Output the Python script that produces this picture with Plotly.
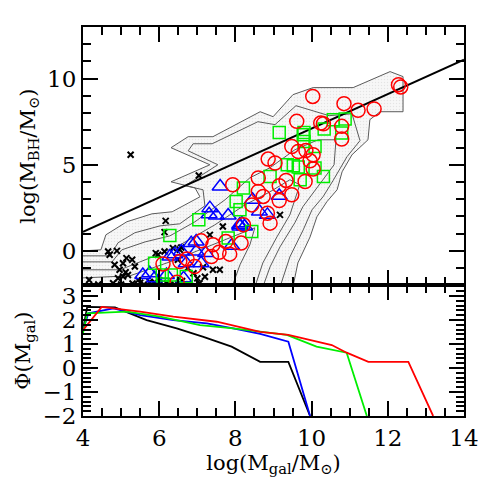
"""
M_BH - M_gal relation with the galaxy mass function below
"""
import plotly.graph_objects as go
from plotly.subplots import make_subplots

# black-hole mass vs galaxy mass, four samples
red_x = [12.28, 12.34, 10.03, 10.85, 11.22, 11.64, 9.61, 10.24, 10.31, 10.79, 10.79, 9.48, 9.65, 9.85,
         10.04, 9.96, 10.04, 8.86, 9.04, 8.60, 9.33, 9.15, 9.83, 7.93, 8.60, 8.73, 9.48, 9.15, 8.43,
         8.84, 8.91, 8.21, 7.10, 7.41, 7.75, 8.15, 7.57, 7.85, 7.37, 6.73, 6.54, 6.10, 6.93, 6.47]
red_y = [9.65, 9.52, 8.97, 8.55, 8.16, 8.24, 7.52, 7.42, 7.38, 7.23, 6.49, 6.06, 5.77, 5.83,
         5.58, 5.23, 4.75, 5.33, 5.10, 4.23, 4.09, 3.78, 4.03, 3.84, 3.45, 3.16, 3.26, 2.92, 2.67,
         2.19, 1.61, 1.51, 0.58, 0.35, 0.54, 0.45, -0.08, -0.19, -0.33, -0.47, -0.62, -0.76, -0.91, -1.82]

green_x = [9.15, 9.80, 10.57, 10.88, 10.33, 10.79, 9.80, 10.09, 9.36, 9.65, 9.52, 10.09, 8.91, 9.70,
           10.31, 8.21, 8.02, 8.12, 8.43, 7.04, 6.28, 7.81, 5.88, 6.08, 6.32, 6.71, 6.10, 9.78]
green_y = [6.88, 6.88, 7.62, 7.66, 7.08, 6.84, 6.35, 6.06, 5.00, 4.87, 4.94, 4.81, 4.32, 4.13,
           4.32, 3.65, 2.87, 2.38, 1.12, 1.80, 0.89, 0.74, -0.72, -1.40, -1.40, -1.49, -1.92, 6.74]

blue_x = [9.15, 8.45, 8.63, 8.84, 7.60, 8.17, 8.12, 7.31, 7.50, 7.81, 8.11, 6.97, 6.84, 7.22, 6.58,
          6.41, 6.28, 6.71, 7.10, 5.57, 5.75, 5.88, 6.19, 6.64, 7.33, 8.24, 6.97, 7.90]
blue_y = [3.20, 2.97, 2.28, 2.09, 3.74, 1.61, 1.41, 2.13, 2.05, 2.05, 1.51, 0.54, 0.45, -0.13, -0.04,
          -0.19, -0.33, -0.72, -0.72, -1.40, -1.30, -1.59, -1.40, -1.59, 2.48, 1.41, -0.04, 0.30]

black_x = [5.25, 7.04, 9.17, 6.17, 6.14, 4.66, 4.89, 4.70, 5.14, 5.97, 5.29, 4.83, 5.05, 5.36, 4.96,
           5.12, 5.05, 5.18, 4.92, 4.16, 4.79, 6.36, 6.58, 6.49, 7.67, 7.41, 7.59, 7.06, 5.88,
           5.30, 5.50, 5.60, 5.75, 5.90, 6.00, 6.20, 5.45, 4.40, 5.00, 6.40, 6.60, 6.80, 7.00,
           7.20, 6.90, 7.15, 6.75, 7.33, 6.54, 5.91, 6.14]
black_y = [5.58, 4.38, 2.09, 1.74, 1.09, -0.04, 0.00, -0.23, -0.42, -0.23, -0.52, -0.81, -0.72, -0.91, -1.10,
           -1.24, -1.49, -1.40, -1.59, -1.69, -1.88, 0.16, 0.19, -0.52, 1.41, -1.10, -1.10, -1.88, -1.82,
           -1.90, -1.85, -1.95, -1.80, -1.95, -1.70, -1.90, -1.70, -1.95, -1.95, -1.95, -1.75, -1.95, -1.60,
           -1.50, -1.30, -0.95, -1.00, 0.93, 0.06, -0.13, -0.04]

# relation line
fit_x = [4, 14]
fit_y = [1.1, 11.1]

# density contours (outer one filled)
outer_x = [4.00, 4.47, 4.60, 5.15, 5.81, 6.34, 7.07, 6.94, 6.31, 7.33, 6.31, 6.76, 7.41, 8.65, 8.99,
           9.51, 10.04, 11.09, 12.06, 12.40, 12.40, 11.80, 11.53, 11.48, 11.06, 10.80, 10.67, 10.40,
           10.14, 9.96, 9.64, 9.51, 4.00]
outer_y = [0.00, 0.06, 0.93, 1.69, 2.15, 2.27, 3.14, 3.66, 4.01, 5.00, 5.99, 6.63, 6.63, 8.08, 7.79,
           9.07, 9.48, 9.48, 10.41, 10.12, 8.08, 8.08, 7.62, 6.45, 5.58, 4.59, 3.55, 2.85,
           1.98, 0.81, -0.70, -2.10, -2.10]

c2_x = [4.00, 4.71, 4.92, 5.36, 6.02, 6.54, 7.20, 7.15, 6.68, 7.54, 6.76, 6.89, 7.39, 8.59, 9.04,
        9.59, 10.46, 11.06, 11.27, 10.93, 10.56, 10.30, 10.01, 9.78, 9.43, 9.17]
c2_y = [-0.29, -0.29, 0.47, 1.05, 1.45, 1.57, 2.62, 3.55, 3.78, 5.00, 5.81, 6.22, 6.22, 7.50, 7.33,
        8.43, 7.85, 7.96, 6.40, 5.47, 4.07, 3.14, 2.38, 1.22, -0.35, -2.10]

c3_x = [4.00, 4.76, 5.02, 5.63, 6.28, 6.94, 7.73, 8.38, 8.91, 9.56, 10.17, 10.64, 10.59, 10.30,
        9.98, 9.77, 9.56, 9.17, 8.91, 8.72]
c3_y = [-0.64, -0.64, 0.06, 0.52, 0.87, 1.69, 2.97, 4.24, 4.83, 5.87, 6.45, 6.45, 5.00, 4.13,
        3.14, 2.56, 1.63, 0.23, -0.93, -2.10]

c4_x = [4.00, 4.97, 5.76, 6.55, 7.46, 8.25, 8.91, 9.43, 9.69, 9.43, 9.09, 8.72, 8.51]
c4_y = [-1.10, -1.10, -0.41, 0.35, 1.51, 2.67, 3.43, 4.13, 3.84, 2.09, 0.81, -0.70, -2.10]

c5_x = [4.00, 5.23, 6.28, 7.20, 7.99, 8.51, 8.38, 8.12, 7.91]
c5_y = [-1.57, -1.45, -0.64, 0.17, 0.87, 1.34, 0.35, -0.81, -2.10]

# mass function, one curve per sample
mf_black_x = [4.00, 4.11, 4.84, 5.67, 6.46, 7.16, 7.90, 8.65, 9.39, 9.96]
mf_black_y = [1.58, 2.55, 2.53, 2.00, 1.65, 1.30, 0.89, 0.26, 0.26, -2.00]
mf_blue_x = [4.00, 4.14, 4.80, 5.50, 6.37, 7.25, 7.94, 8.65, 9.39, 9.96]
mf_blue_y = [1.58, 2.28, 2.49, 2.21, 2.00, 1.86, 1.65, 1.42, 1.10, -2.00]
mf_green_x = [4.00, 4.11, 5.15, 6.02, 7.07, 7.94, 9.35, 10.13, 10.92, 11.45]
mf_green_y = [1.45, 2.28, 2.35, 2.14, 1.79, 1.65, 1.38, 0.89, 0.64, -2.00]
mf_red_x = [4.00, 4.49, 5.50, 6.37, 7.51, 8.65, 9.39, 10.53, 10.92, 11.49, 12.54, 13.19]
mf_red_y = [1.58, 2.55, 2.35, 2.14, 1.93, 1.51, 1.38, 0.96, 0.64, 0.26, 0.26, -2.00]

serif = 'DejaVu Serif'

fig = make_subplots(rows=2, cols=1, shared_xaxes=True, vertical_spacing=0,
                    row_heights=[0.664, 0.336])

fig.add_trace(go.Scatter(x=outer_x, y=outer_y, mode='lines', fill='toself',
                         fillcolor='#f5f5f5',
                         fillpattern=dict(shape='.', fgcolor='#d2d2d2', bgcolor='#f7f7f7',
                                          size=3, solidity=0.2),
                         line=dict(color='#5a5a5a', width=1)), row=1, col=1)
for cx, cy in [(c2_x, c2_y), (c3_x, c3_y), (c4_x, c4_y), (c5_x, c5_y)]:
    fig.add_trace(go.Scatter(x=cx, y=cy, mode='lines',
                             line=dict(color='#5a5a5a', width=1)), row=1, col=1)

fig.add_trace(go.Scatter(x=fit_x, y=fit_y, mode='lines',
                         line=dict(color='black', width=2)), row=1, col=1)

fig.add_trace(go.Scatter(x=black_x, y=black_y, mode='markers',
                         marker=dict(symbol='x-thin-open', size=6, color='black',
                                     line=dict(color='black', width=2))), row=1, col=1)
fig.add_trace(go.Scatter(x=blue_x, y=blue_y, mode='markers',
                         marker=dict(symbol='triangle-up-open', size=14, color='#0000ff',
                                     line=dict(color='#0000ff', width=1.5))), row=1, col=1)
fig.add_trace(go.Scatter(x=green_x, y=green_y, mode='markers',
                         marker=dict(symbol='square-open', size=12, color='#00ee00',
                                     line=dict(color='#00ee00', width=1.5))), row=1, col=1)
fig.add_trace(go.Scatter(x=red_x, y=red_y, mode='markers',
                         marker=dict(symbol='circle-open', size=14, color='#ff0000',
                                     line=dict(color='#ff0000', width=1.5))), row=1, col=1)

for mx, my, col in [(mf_black_x, mf_black_y, 'black'), (mf_blue_x, mf_blue_y, '#0000ff'),
                    (mf_green_x, mf_green_y, '#00ee00'), (mf_red_x, mf_red_y, '#ff0000')]:
    fig.add_trace(go.Scatter(x=mx, y=my, mode='lines',
                             line=dict(color=col, width=1.8)), row=2, col=1)

axis_common = dict(showline=True, linecolor='black', linewidth=2, mirror='allticks',
                   ticks='inside', tickcolor='black', tickwidth=1.5, showgrid=False,
                   zeroline=False, automargin=False,
                   tickfont=dict(family=serif, size=23, color='black'))
title_font = dict(family=serif, size=21, color='black')

fig.update_xaxes(range=[4, 14], dtick=2, ticklen=15,
                 minor=dict(dtick=0.5, ticks='inside', ticklen=8, tickcolor='black', tickwidth=1.5),
                 **axis_common)
fig.update_xaxes(title=dict(text='log(M<sub>gal</sub>/M<sub>⊙</sub>)', standoff=4, font=title_font),
                 row=2, col=1)

fig.update_yaxes(range=[-2, 13], dtick=5, ticklen=15,
                 minor=dict(dtick=1, ticks='inside', ticklen=8, tickcolor='black', tickwidth=1.5),
                 title=dict(text='log(M<sub>BH</sub>/M<sub>⊙</sub>)', standoff=6, font=title_font),
                 row=1, col=1, **axis_common)
fig.update_yaxes(range=[-2, 3.45], dtick=1, ticklen=15,
                 minor=dict(dtick=0.2, ticks='inside', ticklen=8, tickcolor='black', tickwidth=1.5),
                 title=dict(text='Φ(M<sub>gal</sub>)', standoff=6, font=title_font),
                 row=2, col=1, **axis_common)

fig.update_layout(width=491, height=491, margin=dict(l=83, r=27, t=27, b=75),
                  plot_bgcolor='white', paper_bgcolor='white', showlegend=False)

# drop the default page margin so the figure sits at the window corner
fig.write_html('out.html', config={'displayModeBar': False},
               post_script="document.body.style.margin='0';document.body.style.overflow='hidden';")
